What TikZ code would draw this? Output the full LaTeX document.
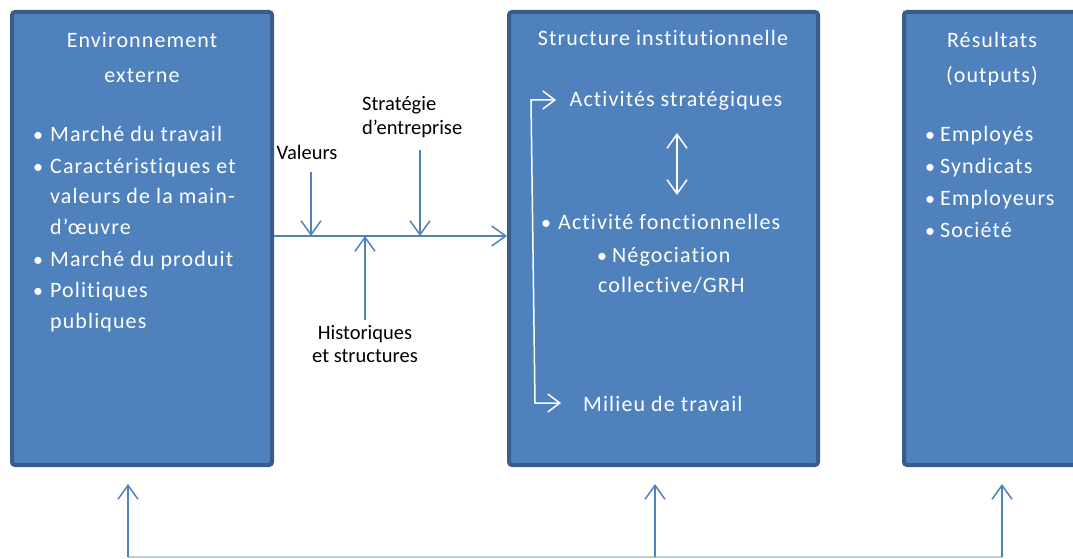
\documentclass[tikz,border=0pt]{standalone}
\usepackage{fontspec}
\setmainfont{Carlito}
\newfontfamily\boxfont[LetterSpace=5,Ligatures={NoCommon}]{Carlito}
\newfontfamily\lblfont[Ligatures={NoCommon}]{Carlito}
\usetikzlibrary{arrows.meta}
\definecolor{boxfill}{HTML}{4F81BD}
\definecolor{boxborder}{HTML}{385D8A}
\definecolor{linecol}{HTML}{4F81BD}
\definecolor{botcol}{HTML}{B9CDE5}
\begin{document}
\begin{tikzpicture}[x=1pt,y=-1pt,
  box/.style={draw=boxborder, line width=4pt, fill=boxfill, rounded corners=3pt, inner sep=0pt},
  wt/.style={text=white, font=\boxfont\fontsize{22}{31}\selectfont, inner sep=0pt},
  bul/.style={text=white, font=\boxfont\fontsize{20}{31}\selectfont, inner sep=0pt, anchor=base},
  lbl/.style={text=black, font=\lblfont\fontsize{20.5}{24}\selectfont, inner sep=0pt, anchor=base},
  conn/.style={draw=linecol, line width=1.5pt, -{Straight Barb[length=14pt,width=20pt]}},
  wconn/.style={draw=white, line width=1.5pt},
]
\useasboundingbox (0,0) rectangle (1073,559);
\clip (0,0) rectangle (1073,559);

% boxes
\node[box, minimum width=260pt, minimum height=453pt] (env) at (142,238.5) {};
\node[box, minimum width=309pt, minimum height=453pt] (inst) at (663.5,238.5) {};
\node[box, minimum width=178pt, minimum height=453pt] (res) at (993,238.5) {};

% environment text
\node[wt, anchor=base] (envA) at (142,48) {Environnement};
\node[wt, anchor=base] (envB) at (142,83) {externe};
\node[bul] (eb1) at (38,142) {•};
\node[wt, anchor=base west] (e1) at (50,142) {Marché du travail};
\node[bul] (eb2) at (38,173) {•};
\node[wt, anchor=base west] (e2) at (50,173) {Caractéristiques et};
\node[wt, anchor=base west] (e3) at (50,203) {valeurs de la main-};
\node[wt, anchor=base west] (e4) at (50,234) {d’œuvre};
\node[bul] (eb3) at (38,266) {•};
\node[wt, anchor=base west] (e5) at (50,266) {Marché du produit};
\node[bul] (eb4) at (38,297) {•};
\node[wt, anchor=base west] (e6) at (50,297) {Politiques};
\node[wt, anchor=base west] (e7) at (50,328) {publiques};

% institutional structure text
\node[wt, anchor=base] (instA) at (663,46) {Structure institutionnelle};
\node[wt, anchor=base] (sA) at (676,107) {Activités stratégiques};
\node[bul] (ib1) at (546,229) {•};
\node[wt, anchor=base west] (sB) at (558,229) {Activité fonctionnelles};
\node[bul] (ib2) at (602,262) {•};
\node[wt, anchor=base west] (sC) at (612,262) {Négociation};
\node[wt, anchor=base west] (sD) at (598,292) {collective/GRH};
\node[wt, anchor=base west] (sE) at (583,411) {Milieu de travail};

% results text
\node[wt, anchor=base] (resA) at (992,48) {Résultats};
\node[wt, anchor=base] (resB) at (992,83) {(outputs)};
\node[bul] (rb1) at (930,142) {•};
\node[wt, anchor=base west] (r1) at (940,142) {Employés};
\node[bul] (rb2) at (930,173) {•};
\node[wt, anchor=base west] (r2) at (940,173) {Syndicats};
\node[bul] (rb3) at (930,205) {•};
\node[wt, anchor=base west] (r3) at (940,205) {Employeurs};
\node[bul] (rb4) at (930,237) {•};
\node[wt, anchor=base west] (r4) at (940,237) {Société};

% middle labels
\node[lbl] (val) at (307,160) {Valeurs};
\node[lbl, anchor=base west] (strA) at (362,111) {Stratégie};
\node[lbl, anchor=base west] (strB) at (362,135) {d’entreprise};
\node[lbl] (hisA) at (365,339) {Historiques};
\node[lbl] (hisB) at (365,362) {et structures};

% middle connectors
\draw[conn] (env.east |- 0,236) -- (inst.west |- 0,236);
\coordinate (vT) at (311,172); \coordinate (vB) at (311,236);
\coordinate (sT) at (420,150); \coordinate (sBt) at (420,236);
\coordinate (hB) at (365,320); \coordinate (hT) at (365,236);
\draw[conn] (vT) -- (vB);
\draw[conn] (sT) -- (sBt);
\draw[conn] (hB) -- (hT);

% inside institutional box
\coordinate (dA) at (677,133); \coordinate (dB) at (677,195);
\draw[wconn, {Straight Barb[length=14pt,width=20pt]}-{Straight Barb[length=14pt,width=20pt]}] (dA) -- (dB);
\coordinate (k1) at (556,100); \coordinate (k2) at (531,100);
\coordinate (k3) at (535,403); \coordinate (k4) at (561,403);
\draw[wconn, {Straight Barb[length=12pt,width=18pt]}-{Straight Barb[length=12pt,width=18pt]}] (k1) -- (k2) -- (k3) -- (k4);

% bottom feedback
\coordinate (b1) at (128,557); \coordinate (b2) at (655,557); \coordinate (b3) at (1002,557);
\coordinate (t1) at (128,484); \coordinate (t2) at (655,484); \coordinate (t3) at (1002,484);
\draw[draw=botcol, line width=2pt] (b1) -- (b3);
\draw[conn] (b1) -- (t1);
\draw[conn] (b2) -- (t2);
\draw[conn] (b3) -- (t3);
\end{tikzpicture}
\end{document}
